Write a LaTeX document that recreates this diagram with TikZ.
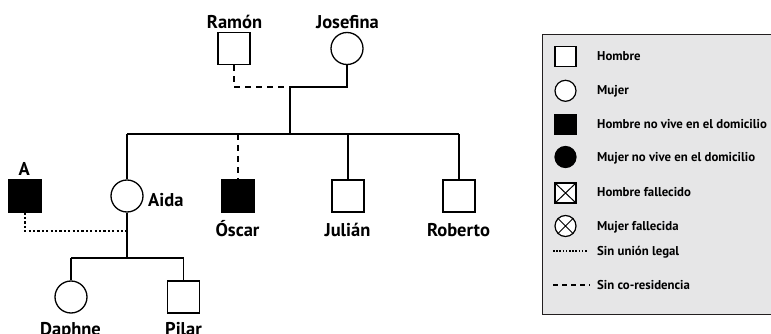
\documentclass[tikz,border=0pt]{standalone}
\usepackage{fontspec}
\setmainfont{PT Sans}
\usetikzlibrary{calc}
\definecolor{legbg}{HTML}{E6E6E7}
\definecolor{legborder}{HTML}{231F20}
\tikzset{
  male/.style={draw, line width=1.3pt, minimum size=32pt, inner sep=0pt, fill=white},
  female/.style={draw, circle, line width=1.3pt, minimum size=32pt, inner sep=0pt, fill=white},
  absent/.style={fill=black},
  lbl/.style={font=\bfseries\fontsize{18.5}{19}\selectfont, inner sep=0pt, anchor=base},
  tie/.style={line width=1.3pt},
  dashtie/.style={line width=1.3pt, dash pattern=on 6pt off 5pt},
  dottie/.style={line width=2.2pt, dash pattern=on 2.2pt off 2.2pt},
  lmale/.style={draw, line width=1.2pt, minimum width=21pt, minimum height=20pt, inner sep=0pt, fill=white},
  lfemale/.style={draw, circle, line width=1.2pt, minimum size=21pt, inner sep=0pt, fill=white},
  ltext/.style={font=\bfseries\fontsize{12.8}{13}\selectfont, anchor=base west, inner sep=0pt},
}
\begin{document}
\begin{tikzpicture}[x=1pt,y=-1pt]
\useasboundingbox (0,0) rectangle (771,334);
% people
\node[male] (ramon) at (234,48.5) {};
\node[lbl] (ramonL) at (234.5,28.3) {Ramón};
\node[female] (jose) at (347,48.5) {};
\node[lbl] (joseL) at (347.5,28.3) {Josefina};
\node[male, absent] (a) at (25,196) {};
\node[lbl] (aL) at (24.3,175.5) {A};
\node[female] (aida) at (127,196) {};
\node[lbl, anchor=base west] (aidaL) at (148,206.5) {Aida};
\node[male, absent] (oscar) at (238,196) {};
\node[lbl] (oscarL) at (237.5,236.7) {Óscar};
\node[male] (julian) at (348,196) {};
\node[lbl] (julianL) at (347.5,236.7) {Julián};
\node[male] (roberto) at (459,196) {};
\node[lbl] (robertoL) at (458.5,236.7) {Roberto};
\node[female] (daphne) at (71,297) {};
\node[lbl] (daphneL) at (70.5,335) {Daphne};
\node[male] (pilar) at (183.5,297) {};
\node[lbl] (pilarL) at (183.5,335) {Pilar};
% connectors
\coordinate (u1) at (290,87);
\coordinate (sib) at (290,134);
\coordinate (u2) at (127,231);
\coordinate (kids) at (127,258);
\draw[dashtie] (ramon.south) |- (u1);
\draw[tie] (jose.south) |- (u1);
\draw[tie] (u1) -- (sib);
\draw[tie] (sib -| aida) -- (sib -| roberto);
\draw[tie] (sib -| aida) -- (aida.north);
\draw[dashtie] (sib -| oscar) -- (oscar.north);
\draw[tie] (sib -| julian) -- (julian.north);
\draw[tie] (sib -| roberto) -- (roberto.north);
\draw[dottie] (a.south) |- (u2);
\draw[tie] (aida.south) -- (kids);
\draw[tie] (kids -| daphne) -- (kids -| pilar);
\draw[tie] (kids -| daphne) -- (daphne.north);
\draw[tie] (kids -| pilar) -- (pilar.north);
% legend
\node[draw=legborder, fill=legbg, line width=1.4pt, minimum width=240pt, minimum height=280pt, anchor=north west, inner sep=0pt] (legend) at (542,34) {};
\node[lmale] (s1) at (565.5,56.7) {};
\node[ltext] (t1) at (597,61) {Hombre};
\node[lfemale] (s2) at (565.5,90.8) {};
\node[ltext] (t2) at (597,95) {Mujer};
\node[lmale, absent] (s3) at (565.5,124.7) {};
\node[ltext] (t3) at (597,128.5) {Hombre no vive en el domicilio};
\node[lfemale, absent] (s4) at (565.5,157) {};
\node[ltext] (t4) at (597,161.5) {Mujer no vive en el domicilio};
\node[lmale] (s5) at (565.5,193) {};
\draw[line width=1pt] (s5.north west) -- (s5.south east) (s5.north east) -- (s5.south west);
\node[ltext] (t5) at (597,196.8) {Hombre fallecido};
\node[lfemale] (s6) at (565.5,226) {};
\draw[line width=1pt] (s6.north west) -- (s6.south east) (s6.north east) -- (s6.south west);
\node[ltext] (t6) at (597,230) {Mujer fallecida};
\coordinate (d1) at (553,251);
\coordinate (d2) at (588,251);
\draw[line width=1.6pt, dash pattern=on 1.6pt off 1.6pt] (d1) -- (d2);
\node[ltext] (t7) at (597,255.5) {Sin unión legal};
\coordinate (e1) at (553,285);
\coordinate (e2) at (590,285);
\draw[line width=1.1pt, dash pattern=on 5pt off 4pt] (e1) -- (e2);
\node[ltext] (t8) at (597,289) {Sin co-residencia};
\end{tikzpicture}
\end{document}
